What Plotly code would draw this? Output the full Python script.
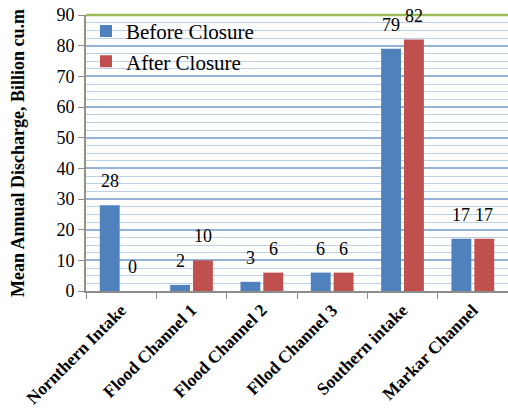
import plotly.graph_objects as go

categories = ["Nornthern Intake", "Flood Channel 1", "Flood Channel 2",
              "Fllod Channel 3", "Southern intake", "Markar Channel"]
before_closure = [28, 2, 3, 6, 79, 17]
after_closure = [0, 10, 6, 6, 82, 17]

BLUE = "#4F81BD"
RED = "#C0504D"
FONT = '"Liberation Serif", "Times New Roman", Times, serif'

fig = go.Figure()
fig.add_trace(go.Bar(name="Before Closure", x=categories, y=before_closure,
                     marker=dict(color=BLUE, line=dict(width=0))))
fig.add_trace(go.Bar(name="After Closure", x=categories, y=after_closure,
                     marker=dict(color=RED, line=dict(width=0))))

# value labels, lifted a little above each bar
for vals, shift in ((before_closure, -11.5), (after_closure, 11.5)):
    for cat, v in zip(categories, vals):
        fig.add_annotation(x=cat, y=v, text=str(v), showarrow=False,
                           xshift=shift, yshift=12, yanchor="bottom",
                           font=dict(family=FONT, size=18, color="#000"))

# green plot-area border (visible along the top)
fig.add_shape(type="line", xref="paper", yref="paper", x0=0, x1=1, y0=1, y1=1,
              line=dict(color="#9BBB59", width=2.5))

fig.update_layout(
    width=508, height=410,
    margin=dict(l=86, r=0, t=15, b=119),
    paper_bgcolor="white", plot_bgcolor="white",
    barmode="group", bargap=0.35, bargroupgap=0.13,
    font=dict(family=FONT, size=18, color="#000"),
    legend=dict(x=0.0, y=1.015, xanchor="left", yanchor="top",
                bgcolor="rgba(0,0,0,0)", font=dict(family=FONT, size=21),
                itemwidth=30, tracegroupgap=0),
    showlegend=True,
)

fig.update_yaxes(
    range=[0, 90], tickmode="linear", tick0=0, dtick=10,
    tickfont=dict(family=FONT, size=18),
    showgrid=True, gridcolor="#95B3D7", gridwidth=1.5,
    minor=dict(tickmode="linear", tick0=0, dtick=2.5, showgrid=True,
               gridcolor="#BCD0E8", gridwidth=1.2),
    showline=True, linecolor="#8f9681", linewidth=2,
    ticks="outside", ticklen=6, tickcolor="#8c8c8c",
    zeroline=False,
    title=dict(text="<b>Mean Annual Discharge, Billion cu.m</b>",
               font=dict(family=FONT, size=18), standoff=27),
)

fig.update_xaxes(
    tickangle=-45, tickfont=dict(family=FONT, size=17.5, weight="bold"),
    showline=True, linecolor="#8c8c8c", linewidth=2,
    ticks="outside", ticklen=6, tickcolor="#8c8c8c",
    tickson="boundaries", showgrid=False,
)

fig.write_html("out.html")
